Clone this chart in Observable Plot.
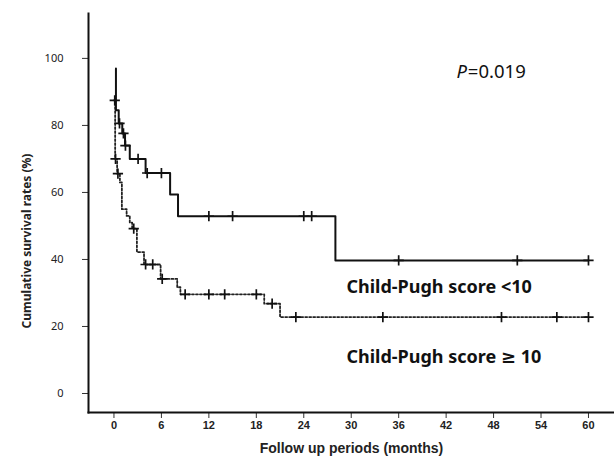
<!DOCTYPE html>
<html>
<head>
<meta charset="utf-8">
<script src="https://cdn.jsdelivr.net/npm/d3@7"></script>
<script src="https://cdn.jsdelivr.net/npm/@observablehq/plot@0.6"></script>
<style>
  html, body { margin: 0; padding: 0; background: #fff; }
  #chart svg { display: block; }
</style>
</head>
<body>
<div id="chart"></div>
<script>
// Child-Pugh score < 10 (solid)
const lowTimes = [0.25, 0.25, 0.6, 1.05, 1.4, 2.0, 4.0, 7.1, 8.1, 28, 60];
const lowSurv  = [97, 84.5, 80.6, 77.6, 74, 70, 65.8, 59.4, 52.9, 39.7, 39.7];
const lowCensTimes = [0.7, 1.2, 1.45, 3.05, 4.2, 6.0, 12, 15, 24, 25, 36, 51, 60];
const lowCensSurv  = [80.6, 77.6, 74, 70, 65.8, 65.8, 52.9, 52.9, 52.9, 52.9, 39.7, 39.7, 39.7];

// Child-Pugh score >= 10 (dotted)
const highTimes = [0, 0.15, 0.4, 0.75, 1.0, 1.6, 2.0, 2.3, 2.9, 3.8, 5.9, 8.0, 8.4, 19.0, 21.0, 60];
const highSurv  = [87.5, 70, 65.6, 63, 55, 53, 51, 49.2, 42.2, 38.5, 34.2, 31.7, 29.6, 26.8, 22.8, 22.8];
const highCensTimes = [0.1, 0.2, 0.5, 2.5, 4.0, 4.9, 6.1, 9, 12, 14, 18, 20, 23, 34, 49, 56, 60];
const highCensSurv  = [87.5, 70, 65.6, 49.2, 38.5, 38.5, 34.2, 29.6, 29.6, 29.6, 29.6, 26.8, 22.8, 22.8, 22.8, 22.8, 22.8];

const xTicks = [0, 6, 12, 18, 24, 30, 36, 42, 48, 54, 60];
const yTicks = [0, 20, 40, 60, 80, 100];
const xTitle = "Follow up periods (months)";
const yTitle = "Cumulative survival rates (%)";
const groupLabels = ["Child-Pugh score <10", "Child-Pugh score \u2265 10"];
const pSymbol = "P";
const pValueText = "=0.019";

const low = lowTimes.map((t, i) => ({t, s: lowSurv[i]}));
const high = highTimes.map((t, i) => ({t, s: highSurv[i]}));
const lowC = lowCensTimes.map((t, i) => ({t, s: lowCensSurv[i]}));
const highC = highCensTimes.map((t, i) => ({t, s: highCensSurv[i]}));

const labelFont = "'Noto Sans', 'DejaVu Sans', sans-serif";
const arialFont = "'Liberation Sans', Arial, sans-serif";

const plot = Plot.plot({
  width: 614,
  height: 457,
  marginLeft: 88,
  marginRight: 0,
  marginTop: 13,
  marginBottom: 45,
  style: {background: "#fff", color: "#000"},
  x: {domain: [-3.22, 63.29], axis: null},
  y: {domain: [-5.67, 113.4], axis: null},
  marks: [
    Plot.axisY({
      ticks: yTicks, tickSize: 6, tickPadding: 19, label: null,
      fontSize: 11, fontFamily: labelFont, fill: "#222", stroke: "#333"
    }),
    Plot.axisX({
      ticks: xTicks, tickSize: 6, tickPadding: 3, label: null,
      fontSize: 11, fontWeight: "bold", fontFamily: arialFont,
      fill: "#222", stroke: "#333"
    }),
    Plot.frame({anchor: "left", stroke: "#111", strokeWidth: 2}),
    Plot.frame({anchor: "bottom", stroke: "#111", strokeWidth: 2}),
    Plot.text([xTitle], {
      frameAnchor: "bottom", dy: 40, fontSize: 14, fontWeight: "bold",
      fontFamily: arialFont, fill: "#222"
    }),
    Plot.text([yTitle], {
      frameAnchor: "left", textAnchor: "middle", dx: -61, dy: 28, rotate: -90, fontSize: 12, fontWeight: "bold",
      fontFamily: labelFont, fill: "#222"
    }),
    Plot.line(high, {x: "t", y: "s", curve: "step-after", stroke: "#222", strokeWidth: 1.8, strokeDasharray: "2,2"}),
    Plot.line(low, {x: "t", y: "s", curve: "step-after", stroke: "#111", strokeWidth: 2}),
    Plot.dot(highC, {x: "t", y: "s", symbol: "plus", r: 3.4, stroke: "#111", strokeWidth: 1.7}),
    Plot.dot(lowC, {x: "t", y: "s", symbol: "plus", r: 3.4, stroke: "#111", strokeWidth: 1.7}),
    Plot.text([groupLabels[0]], {x: 29.4, y: 31.6, textAnchor: "start", fontSize: 18, fontWeight: "bold", fontFamily: labelFont, fill: "#111"}),
    Plot.text([groupLabels[1]], {x: 29.4, y: 10.7, textAnchor: "start", fontSize: 18, fontWeight: "bold", fontFamily: labelFont, fill: "#111"}),
    Plot.text([pSymbol], {x: 43.3, y: 95.8, textAnchor: "start", fontSize: 18.5, fontStyle: "italic", fontFamily: labelFont, fill: "#111"}),
    Plot.text([pValueText], {x: 44.75, y: 95.8, textAnchor: "start", fontSize: 18.5, fontFamily: labelFont, fill: "#111"})
  ]
});

document.getElementById("chart").appendChild(plot);
</script>
</body>
</html>
